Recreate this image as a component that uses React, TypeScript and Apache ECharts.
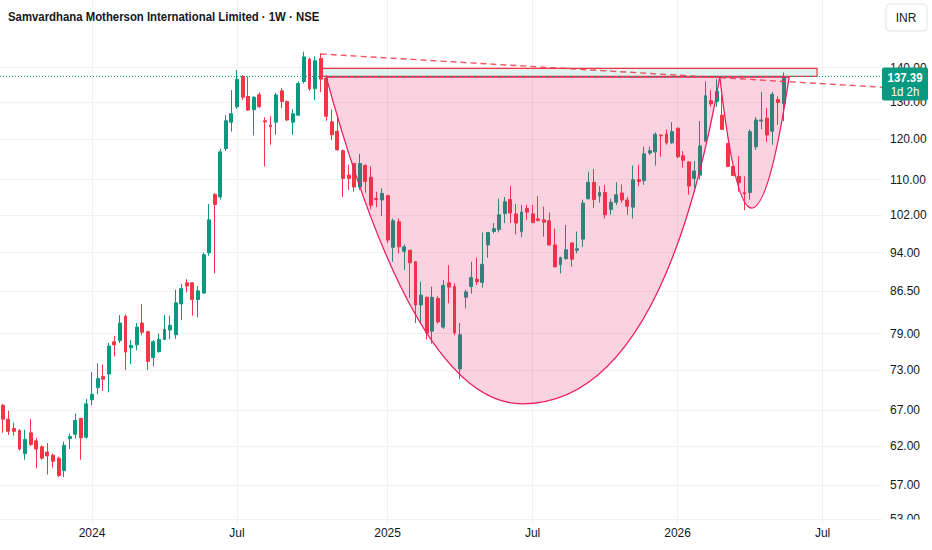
import React, { useEffect, useRef } from "react";
import * as echarts from "echarts";

const TITLE = "Samvardhana Motherson International Limited · 1W · NSE";
const CURRENCY = "INR";
const COUNTDOWN = "1d 2h";
const FIRST_WEEK = "2023-09-11";

const OPEN = [
  67.7, 65.7, 64.4, 64.1, 61.0, 63.8, 62.7, 61.9, 61.2, 60.8, 60.4, 58.8, 63.0, 63.6, 65.8, 63.2,
  68.5, 70.3, 72.0, 72.4, 77.6, 77.8, 82.0, 76.6, 77.1, 80.8,
  79.3, 75.0, 76.0, 78.0, 79.6, 78.8, 84.2, 88.1, 88.1, 85.0,
  86.2, 94.0, 106.6, 106.0, 117.6, 124.5, 128.7, 137.4, 131.6, 127.9,
  132.1, 124.9, 123.7, 124.5, 133.2, 130.2, 124.5, 126.4, 135.9, 142.6,
  133.8, 142.8, 136.9, 124.6, 122.1, 117.1, 111.1, 113.9, 108.3, 113.4,
  110.6, 105.7, 105.3, 106.3, 95.1, 100.5, 94.3, 94.5, 92.2, 84.0,
  85.4, 79.4, 85.2, 80.1, 88.1, 87.4, 73.2, 85.4, 87.4, 88.8,
  88.2, 95.6, 98.4, 98.8, 102.3, 105.4, 102.2, 98.4, 103.4, 102.2,
  101.1, 100.9, 100.7, 95.6, 91.6, 92.8, 96.0, 94.5, 96.8, 105.6,
  109.4, 106.2, 107.0, 103.2, 104.8, 106.9, 105.3, 103.7, 110.0, 109.8,
  116.5, 116.8, 121.1, 121.4, 119.1, 122.9, 115.8, 114.3, 110.3, 111.1,
  119.5, 130.4, 130.2, 126.4, 118.9, 113.2, 110.8, 107.0, 107.0, 118.1,
  124.8, 125.6, 122.1, 130.7, 129.6,
];
const HIGH = [
  67.9, 66.9, 65.2, 64.3, 64.2, 65.7, 63.1, 62.1, 62.4, 61.0, 60.6, 62.6, 63.7, 66.5, 65.9, 68.6,
  72.7, 74.1, 73.9, 77.4, 78.6, 82.2, 82.3, 77.9, 80.8, 84.2,
  79.5, 77.9, 79.0, 82.2, 82.1, 86.8, 87.9, 88.8, 88.2, 87.5,
  94.0, 104.4, 106.8, 117.6, 126.4, 133.4, 139.3, 137.8, 137.4, 131.6,
  132.8, 125.8, 126.1, 132.6, 134.0, 130.4, 128.0, 135.9, 144.9, 143.1,
  143.5, 144.4, 137.8, 128.0, 126.4, 117.4, 113.6, 114.0, 116.3, 113.8,
  113.2, 107.2, 108.0, 106.5, 101.2, 101.2, 95.7, 94.6, 92.3, 88.3,
  85.5, 87.4, 85.6, 88.6, 91.5, 88.0, 80.8, 86.8, 92.2, 93.0,
  98.2, 98.3, 100.2, 105.6, 106.0, 108.5, 104.4, 104.2, 104.2, 104.2,
  106.2, 103.8, 102.5, 99.0, 93.2, 99.8, 96.2, 98.4, 105.4, 111.9,
  112.6, 108.5, 108.8, 105.6, 109.4, 108.9, 106.0, 113.4, 113.6, 118.1,
  118.1, 121.8, 121.3, 122.6, 124.5, 123.1, 117.0, 114.5, 114.5, 124.8,
  135.9, 133.4, 136.7, 132.0, 119.1, 113.4, 115.8, 110.8, 122.6, 125.9,
  132.9, 128.4, 132.9, 131.6, 138.6,
];
const LOW = [
  63.8, 63.5, 63.4, 61.4, 60.2, 62.0, 59.1, 60.2, 58.3, 59.2, 58.0, 58.0, 61.6, 63.0, 60.2, 63.0,
  67.7, 69.3, 69.8, 69.6, 75.2, 77.4, 73.0, 74.0, 76.2, 78.7,
  73.0, 73.6, 75.8, 77.9, 78.0, 78.1, 81.3, 86.3, 82.1, 81.8,
  86.0, 93.4, 89.9, 105.4, 117.0, 122.0, 128.1, 130.6, 127.6, 121.0,
  128.4, 113.2, 118.6, 121.2, 128.3, 124.8, 121.2, 126.2, 135.3, 133.2,
  130.6, 132.8, 124.9, 119.8, 117.1, 106.0, 107.6, 107.2, 107.6, 107.0,
  103.2, 103.7, 101.7, 96.0, 92.2, 93.9, 90.6, 85.3, 80.8, 80.8,
  78.0, 77.3, 80.7, 79.8, 84.3, 78.7, 71.6, 83.4, 86.1, 87.7,
  87.2, 93.0, 98.0, 98.2, 100.2, 100.2, 97.8, 97.2, 100.9, 100.2,
  100.5, 97.3, 95.4, 91.1, 89.9, 92.6, 91.2, 93.9, 95.2, 105.4,
  103.5, 104.7, 101.2, 102.0, 104.2, 104.7, 102.0, 101.2, 108.5, 108.8,
  116.0, 113.4, 115.6, 118.6, 118.8, 115.2, 112.9, 106.5, 108.0, 110.0,
  119.3, 128.7, 128.7, 122.4, 113.0, 110.8, 107.2, 103.0, 105.4, 117.3,
  122.6, 119.3, 118.6, 123.8, 124.8,
];
const CLOSE = [
  65.7, 64.0, 64.0, 61.6, 62.9, 62.2, 61.6, 60.4, 60.7, 60.0, 58.2, 62.1, 63.3, 65.5, 63.1, 67.9,
  69.3, 71.7, 71.6, 76.9, 77.1, 80.8, 75.9, 77.0, 80.1, 79.2,
  74.4, 77.6, 78.0, 79.7, 80.4, 84.4, 87.0, 87.5, 85.0, 86.6,
  93.6, 100.9, 104.3, 116.8, 124.9, 126.8, 136.6, 131.4, 127.8, 131.4,
  128.7, 124.6, 123.3, 132.0, 130.2, 125.1, 126.8, 135.3, 143.3, 133.8,
  142.1, 136.6, 126.1, 121.2, 117.3, 110.3, 110.3, 108.3, 113.9, 109.6,
  104.1, 105.4, 106.8, 96.6, 100.7, 95.2, 95.2, 92.0, 84.0, 85.8,
  79.1, 85.4, 81.0, 87.6, 87.3, 79.1, 78.8, 86.4, 89.1, 88.3,
  91.7, 98.2, 99.0, 102.0, 104.9, 102.4, 100.2, 102.6, 102.6, 100.3,
  100.8, 100.4, 95.6, 91.2, 93.0, 94.6, 92.7, 94.8, 104.6, 109.4,
  105.4, 107.0, 102.0, 104.8, 106.5, 105.3, 103.9, 110.0, 109.6, 116.3,
  117.1, 121.3, 120.9, 119.1, 122.0, 115.6, 114.7, 108.5, 112.1, 118.3,
  131.8, 129.5, 133.1, 122.6, 113.2, 111.0, 109.3, 106.7, 122.0, 125.1,
  125.1, 121.1, 132.2, 129.9, 137.39,
];

const PRICE_TICKS = [140, 130, 120, 110, 102, 94, 86.5, 79, 73, 67, 62, 57, 53];
const TIME_TICKS = ["2024-01-01", "2024-07-01", "2025-01-06", "2025-07-07", "2026-01-05", "2026-07-06"];
const TIME_LABELS = ["2024", "Jul", "2025", "Jul", "2026", "Jul"];

// visible window of the chart (data coordinates)
const VIEW_START = "2023-09-07T12:00:00Z";
const VIEW_END = "2026-09-18T13:00:00Z";
const VIEW_PRICE_LOW = 52.31;
const VIEW_PRICE_HIGH = 161.97;

// drawings, anchored in (date, price)
const TREND_FROM: [string, number] = ["2024-10-14", 144.2];
const TREND_TO: [string, number] = ["2026-02-23", 137.1];
const BOX = { from: "2024-10-16", to: "2026-06-29", top: 139.8, bottom: 137.4 };
const CUPS = [
  { start: "2024-10-21", ctrlL: "2025-02-10", bottom: "2025-06-24", ctrlR: "2025-12-16", end: "2026-02-27", rim: 137.2, low: 67.9 },
  { start: "2026-02-27", ctrlL: "2026-03-18", bottom: "2026-04-08", ctrlR: "2026-04-30", end: "2026-05-25", rim: 137.2, low: 103.5 },
];

const UP = "#089981";
const DOWN = "#f23645";
const PINK = "#e91e63";
const TEXT = "#131722";
const GRIDC = "#f0f1f3";
const FONT = '"Liberation Sans", Arial, Roboto, sans-serif';
const DAY = 86400000;

const toT = (d: string) => Date.parse(d);

export default function App() {
  const ref = useRef<HTMLDivElement>(null);
  useEffect(() => {
    if (!ref.current) return;
    const chart = echarts.init(ref.current, null, { renderer: "svg" });
    const t0 = toT(FIRST_WEEK);
    const candles = OPEN.map((o, i) => [
      t0 + i * 7 * DAY,
      Math.log(o),
      Math.log(CLOSE[i]),
      Math.log(LOW[i]),
      Math.log(HIGH[i]),
    ]);
    const last = CLOSE[CLOSE.length - 1];
    const timeTicks = TIME_TICKS.map(toT);
    const priceTicks = PRICE_TICKS.map((p) => Math.log(p));

    const renderItem = (params: any, api: any) => {
      const cs = params.coordSys;
      const pt = (d: string, p: number) => api.coord([toT(d), Math.log(p)]);
      const right = cs.x + cs.width;
      const children: any[] = [];
      CUPS.forEach((c) => {
        const s = pt(c.start, c.rim);
        const l = pt(c.ctrlL, c.low);
        const b = pt(c.bottom, c.low);
        const r = pt(c.ctrlR, c.low);
        const e = pt(c.end, c.rim);
        children.push({
          type: "path",
          shape: {
            pathData: `M${s[0]} ${s[1]} Q${l[0]} ${l[1]} ${b[0]} ${b[1]} Q${r[0]} ${r[1]} ${e[0]} ${e[1]} Z`,
          },
          style: { fill: "rgba(233,30,99,0.2)", stroke: PINK, lineWidth: 1.3 },
        });
      });
      const b1 = pt(BOX.from, BOX.top);
      const b2 = pt(BOX.to, BOX.bottom);
      children.push({
        type: "rect",
        shape: { x: b1[0], y: b1[1], width: b2[0] - b1[0], height: b2[1] - b1[1] },
        style: { fill: "rgba(8,153,129,0.12)", stroke: DOWN, lineWidth: 1.2 },
      });
      const a = pt(TREND_FROM[0], TREND_FROM[1]);
      const bb = pt(TREND_TO[0], TREND_TO[1]);
      const yEnd = a[1] + ((bb[1] - a[1]) * (right - a[0])) / (bb[0] - a[0]);
      children.push({
        type: "line",
        shape: { x1: a[0], y1: a[1], x2: right, y2: yEnd },
        style: { stroke: DOWN, lineWidth: 1.4, lineDash: [6, 4], opacity: 0.85 },
      });
      const py = api.coord([t0, Math.log(last)])[1];
      children.push({
        type: "line",
        shape: { x1: cs.x, y1: py, x2: right, y2: py },
        style: { stroke: UP, lineWidth: 1, lineDash: [1, 2] },
      });
      children.push({
        type: "rect",
        shape: { x: right, y: py - 9, width: 46, height: 33, r: 2 },
        style: { fill: UP },
      });
      children.push({
        type: "text",
        x: right + 23,
        y: py + 1,
        scaleX: 0.88,
        style: {
          text: last.toFixed(2),
          x: 0,
          y: 0,
          fill: "#ffffff",
          font: `600 13px ${FONT}`,
          align: "center",
          verticalAlign: "middle",
          textAlign: "center",
          textVerticalAlign: "middle",
        },
      });
      children.push({
        type: "text",
        x: right + 23,
        y: py + 15,
        scaleX: 0.88,
        style: {
          text: COUNTDOWN,
          x: 0,
          y: 0,
          fill: "#ffffff",
          font: `13px ${FONT}`,
          align: "center",
          verticalAlign: "middle",
          textAlign: "center",
          textVerticalAlign: "middle",
        },
      });
      return { type: "group", children };
    };

    chart.setOption({
      animation: false,
      backgroundColor: "#ffffff",
      grid: { left: 0, right: 50, top: 0, bottom: 25, containLabel: false, outerBoundsMode: "none" },
      xAxis: {
        type: "value",
        min: toT(VIEW_START),
        max: toT(VIEW_END),
        axisLine: { show: false },
        axisTick: { show: false, customValues: timeTicks },
        splitLine: { show: true, lineStyle: { color: GRIDC, width: 1 } },
        axisLabel: {
          customValues: timeTicks,
          formatter: (v: number) => {
            const i = timeTicks.findIndex((t) => Math.abs(t - v) < DAY);
            return i >= 0 ? TIME_LABELS[i] : "";
          },
          color: TEXT,
          fontFamily: FONT,
          fontSize: 12,
          margin: 2,
        },
      },
      yAxis: {
        type: "value",
        position: "right",
        min: Math.log(VIEW_PRICE_LOW),
        max: Math.log(VIEW_PRICE_HIGH),
        axisLine: { show: false },
        axisTick: { show: false, customValues: priceTicks },
        splitLine: { show: true, lineStyle: { color: GRIDC, width: 1 } },
        axisLabel: {
          customValues: priceTicks,
          formatter: (v: number) => Math.exp(v).toFixed(2),
          color: TEXT,
          fontFamily: FONT,
          fontSize: 12,
          margin: 8,
          align: "left",
        },
      },
      series: [
        {
          type: "candlestick",
          data: candles,
          encode: { x: 0, y: [1, 2, 3, 4] },
          barWidth: 3.4,
          itemStyle: {
            color: UP,
            color0: DOWN,
            borderColor: UP,
            borderColor0: DOWN,
            borderWidth: 1,
          },
          z: 2,
        },
        {
          type: "custom",
          data: [[t0, Math.log(last)]],
          encode: { x: 0, y: 1 },
          renderItem,
          clip: false,
          silent: true,
          z: 5,
        },
      ],
      graphic: [
        {
          type: "text",
          x: 8,
          y: 17,
          scaleX: 0.875,
          style: {
            text: TITLE,
            fill: TEXT,
            font: `600 13px ${FONT}`,
            textVerticalAlign: "middle",
            verticalAlign: "middle",
          },
          z: 100,
        },
        {
          type: "rect",
          shape: { x: 886, y: 4, width: 41, height: 27, r: 4 },
          style: { fill: "#ffffff", stroke: "#e0e3eb", lineWidth: 1 },
          z: 100,
        },
        {
          type: "text",
          x: 906,
          y: 18,
          style: {
            text: CURRENCY,
            fill: TEXT,
            font: `12px ${FONT}`,
            textAlign: "center",
            align: "center",
            textVerticalAlign: "middle",
            verticalAlign: "middle",
          },
          z: 100,
        },
        {
          type: "rect",
          shape: { x: 882, y: 519.5, width: 50, height: 31 },
          style: { fill: "#ffffff" },
          z: 100,
        },
      ],
    });
    return () => chart.dispose();
  }, []);
  return <div ref={ref} style={{ position: "absolute", left: 0, top: 0, width: 932, height: 550 }} />;
}
